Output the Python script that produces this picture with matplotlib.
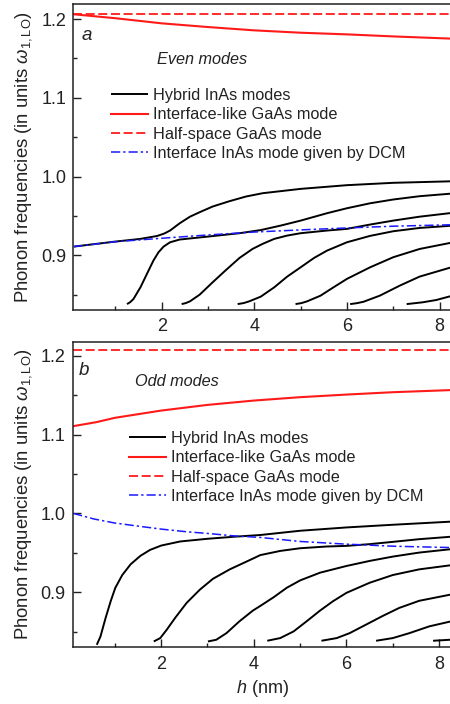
import numpy as np
import matplotlib.pyplot as plt

plt.rcParams['font.family'] = ['Liberation Sans', 'DejaVu Sans']
plt.rcParams['mathtext.fontset'] = 'custom'
plt.rcParams['mathtext.rm'] = 'Liberation Sans'
plt.rcParams['mathtext.it'] = 'Liberation Sans:italic'
plt.rcParams['mathtext.bf'] = 'Liberation Sans:bold'

# ---- panel a: even modes ----
h_half = [0.09, 8.3]
w_half = [1.207, 1.207]

h_gaas_even = [0.1, 1, 2, 3, 4, 5, 6, 7, 8.3]
w_gaas_even = [1.206, 1.201, 1.1945, 1.1898, 1.1856, 1.1826, 1.1805, 1.1779, 1.175]

h_dcm_even = [0.1, 1, 2, 3, 4, 5, 6, 7, 8.3]
w_dcm_even = [0.911, 0.9172, 0.9216, 0.9258, 0.9295, 0.9322, 0.9347, 0.9369, 0.9388]

even_h = [
    [0.1, 1, 1.54, 1.9, 2.05, 2.18, 2.39, 2.61, 2.82, 3.1, 3.46, 3.82, 4.18, 5, 6, 7, 8.3],
    [1.25, 1.32, 1.39, 1.54, 1.68, 1.82, 1.93, 2.04, 2.18, 2.39, 2.96, 3.68, 4.14, 4.57, 5.0, 5.57, 6.0, 6.5, 7.0, 7.57, 8.3],
    [2.43, 2.52, 2.61, 2.82, 3.1, 3.39, 3.68, 3.96, 4.18, 4.43, 4.71, 5.0, 5.57, 6.0, 6.5, 7.0, 7.57, 8.3],
    [3.64, 3.77, 3.89, 4.14, 4.43, 4.71, 5.0, 5.29, 5.57, 6.0, 6.5, 7.0, 7.57, 8.3],
    [4.89, 5.02, 5.14, 5.43, 5.71, 6.0, 6.5, 7.0, 7.57, 8.3],
    [6.07, 6.22, 6.36, 6.71, 7.14, 7.57, 8.3],
    [7.29, 7.64, 7.93, 8.3],
]
even_w = [
    [0.911, 0.9174, 0.9208, 0.9245, 0.9275, 0.9314, 0.9407, 0.949, 0.9547, 0.9619, 0.9686, 0.9746, 0.9788, 0.9843, 0.989, 0.992, 0.994],
    [0.838, 0.8405, 0.8445, 0.8593, 0.8763, 0.8932, 0.9038, 0.911, 0.9165, 0.92, 0.9235, 0.928, 0.932, 0.9377, 0.944, 0.9534, 0.9597, 0.966, 0.9708, 0.975, 0.9785],
    [0.838, 0.8393, 0.8415, 0.85, 0.8657, 0.8814, 0.8966, 0.908, 0.9145, 0.9208, 0.925, 0.928, 0.9314, 0.9335, 0.939, 0.944, 0.949, 0.954],
    [0.838, 0.8393, 0.8415, 0.8475, 0.8593, 0.8729, 0.8847, 0.8966, 0.9059, 0.9165, 0.9246, 0.9305, 0.9347, 0.9377],
    [0.838, 0.8393, 0.8415, 0.8487, 0.8593, 0.87, 0.8847, 0.8975, 0.908, 0.9165],
    [0.838, 0.8392, 0.841, 0.8487, 0.8614, 0.8729, 0.8855],
    [0.838, 0.8403, 0.8432, 0.849],
]

# ---- panel b: odd modes ----
h_gaas_odd = [0.1, 0.6, 1, 2, 3, 4, 5, 6, 7, 8.3]
w_gaas_odd = [1.1106, 1.1157, 1.1212, 1.1304, 1.1376, 1.1431, 1.1474, 1.1507, 1.1537, 1.1565]

h_dcm_odd = [0.1, 0.55, 1, 1.55, 2, 2.55, 3, 3.55, 4.14, 5, 6, 7, 8.3]
w_dcm_odd = [1.0, 0.9928, 0.9877, 0.9834, 0.98, 0.9766, 0.9745, 0.9715, 0.9694, 0.9643, 0.9609, 0.9583, 0.9565]

odd_h = [
    [0.61, 0.69, 0.8, 0.91, 1.01, 1.16, 1.34, 1.55, 1.76, 2.0, 2.41, 3.0, 3.55, 4.14, 5.0, 6.0, 7.0, 8.3],
    [1.84, 1.98, 2.12, 2.3, 2.55, 2.84, 3.12, 3.48, 3.84, 4.14, 4.57, 5.0, 5.57, 6.0, 6.5, 7.0, 7.57, 8.3],
    [3.01, 3.19, 3.41, 3.69, 3.98, 4.14, 4.43, 4.71, 5.0, 5.43, 6.0, 6.5, 7.0, 7.57, 8.3],
    [4.29, 4.57, 4.86, 5.14, 5.43, 5.71, 6.0, 6.5, 7.0, 7.57, 8.3],
    [5.46, 5.79, 6.07, 6.43, 6.79, 7.14, 7.57, 8.3],
    [6.64, 7.0, 7.36, 7.79, 8.3],
    [7.87, 8.3],
]
odd_w = [
    [0.8332, 0.8438, 0.8672, 0.8885, 0.9055, 0.9217, 0.9353, 0.946, 0.9536, 0.9591, 0.9643, 0.9677, 0.9702, 0.9725, 0.9779, 0.9821, 0.9855, 0.9896],
    [0.8374, 0.8417, 0.8523, 0.8672, 0.8864, 0.9034, 0.917, 0.9289, 0.9387, 0.947, 0.9523, 0.9557, 0.9579, 0.9587, 0.9609, 0.9638, 0.9672, 0.9705],
    [0.8374, 0.8396, 0.848, 0.863, 0.8766, 0.8825, 0.8936, 0.9055, 0.9149, 0.9247, 0.9332, 0.9396, 0.9451, 0.9502, 0.9548],
    [0.8383, 0.8417, 0.8502, 0.863, 0.8766, 0.8885, 0.8991, 0.9119, 0.9217, 0.9289, 0.9345],
    [0.8383, 0.8417, 0.848, 0.859, 0.870, 0.880, 0.889, 0.8975],
    [0.8383, 0.8417, 0.848, 0.8566, 0.8635],
    [0.8383, 0.8398],
]

labels = ['Hybrid InAs modes', 'Interface-like GaAs mode',
          'Half-space GaAs mode', 'Interface InAs mode given by DCM']

W, H = 450, 704
fig = plt.figure(figsize=(W/100, H/100), dpi=100)

def px(x0, y0, x1, y1):
    # pixel box (left, top, right, bottom) -> figure fraction rect
    return [x0/W, 1 - y1/H, (x1 - x0)/W, (y1 - y0)/H]

ax_a = fig.add_axes(px(73.3, 3.5, 453.4, 310))
ax_b = fig.add_axes(px(72.7, 341.7, 453.0, 647.3))

def draw(ax, gaas_h, gaas_w, dcm_h, dcm_w, modes_h, modes_w, ylim):
    hl = None
    for hh, ww in zip(modes_h, modes_w):
        l, = ax.plot(hh, ww, color='black', lw=1.4, solid_capstyle='butt', solid_joinstyle='round')
        hl = hl or l
    l_gaas, = ax.plot(gaas_h, gaas_w, color='#ff1a1a', lw=1.5)
    l_half, = ax.plot(h_half, w_half, color='#ff1a1a', lw=1.3, dashes=(5, 2))
    l_dcm, = ax.plot(dcm_h, dcm_w, color='#1a1aff', lw=1.1, dashes=(6, 2, 1.5, 2))
    ax.set_xlim(0.09, 8.3)
    ax.set_ylim(*ylim)
    ax.set_xticks([2, 4, 6, 8])
    ax.set_xticks([1, 3, 5, 7], minor=True)
    ax.set_yticks([0.9, 1.0, 1.1, 1.2])
    ax.set_yticks([0.85, 0.95, 1.05, 1.15], minor=True)
    ax.set_yticklabels(['0.9', '1.0', '1.1', '1.2'])
    ax.tick_params(which='both', direction='in', labelsize=13, color='#222222', labelcolor='#222222')
    ax.tick_params(which='major', length=6, width=1)
    ax.tick_params(which='minor', length=3, width=1)
    ax.tick_params(axis='x', pad=6)
    ax.tick_params(axis='y', pad=5)
    for s in ax.spines.values():
        s.set_color('#222222')
        s.set_linewidth(1.1)
    ax.set_ylabel(r'Phonon frequencies (in units $\omega_{1,\mathrm{LO}}$)', fontsize=13.3, color='#222222', labelpad=5)
    return [hl, l_gaas, l_half, l_dcm]

handles_a = draw(ax_a, h_gaas_even, w_gaas_even, h_dcm_even, w_dcm_even, even_h, even_w, (0.8305, 1.2197))
handles_b = draw(ax_b, h_gaas_odd, w_gaas_odd, h_dcm_odd, w_dcm_odd, odd_h, odd_w, (0.830, 1.2178))

leg_kw = dict(frameon=False, fontsize=11.7, handlelength=2.25, handletextpad=0.35,
              labelspacing=0.27, borderpad=0, borderaxespad=0, loc='upper left',
              bbox_transform=fig.transFigure)
leg = ax_a.legend(handles_a, labels, bbox_to_anchor=(111/W, 1 - 88/H), **leg_kw)
for t in leg.get_texts():
    t.set_color('#222222')
leg = ax_b.legend(handles_b, labels, bbox_to_anchor=(129/W, 1 - 431/H), **leg_kw)
for t in leg.get_texts():
    t.set_color('#222222')

fig.text(81.7/W, 1 - 40/H, 'a', fontsize=13.5, style='italic', va='baseline', color='#222222')
fig.text(78.3/W, 1 - 375/H, 'b', fontsize=13.5, style='italic', va='baseline', color='#222222')
fig.text(156.7/W, 1 - 64/H, 'Even modes', fontsize=11.7, style='italic', va='baseline', color='#222222')
fig.text(135/W, 1 - 386/H, 'Odd modes', fontsize=11.7, style='italic', va='baseline', color='#222222')

ax_b.set_xlabel(r'$h$ (nm)', fontsize=13, color='#222222', labelpad=4)

fig.savefig('out.png', dpi=100)
